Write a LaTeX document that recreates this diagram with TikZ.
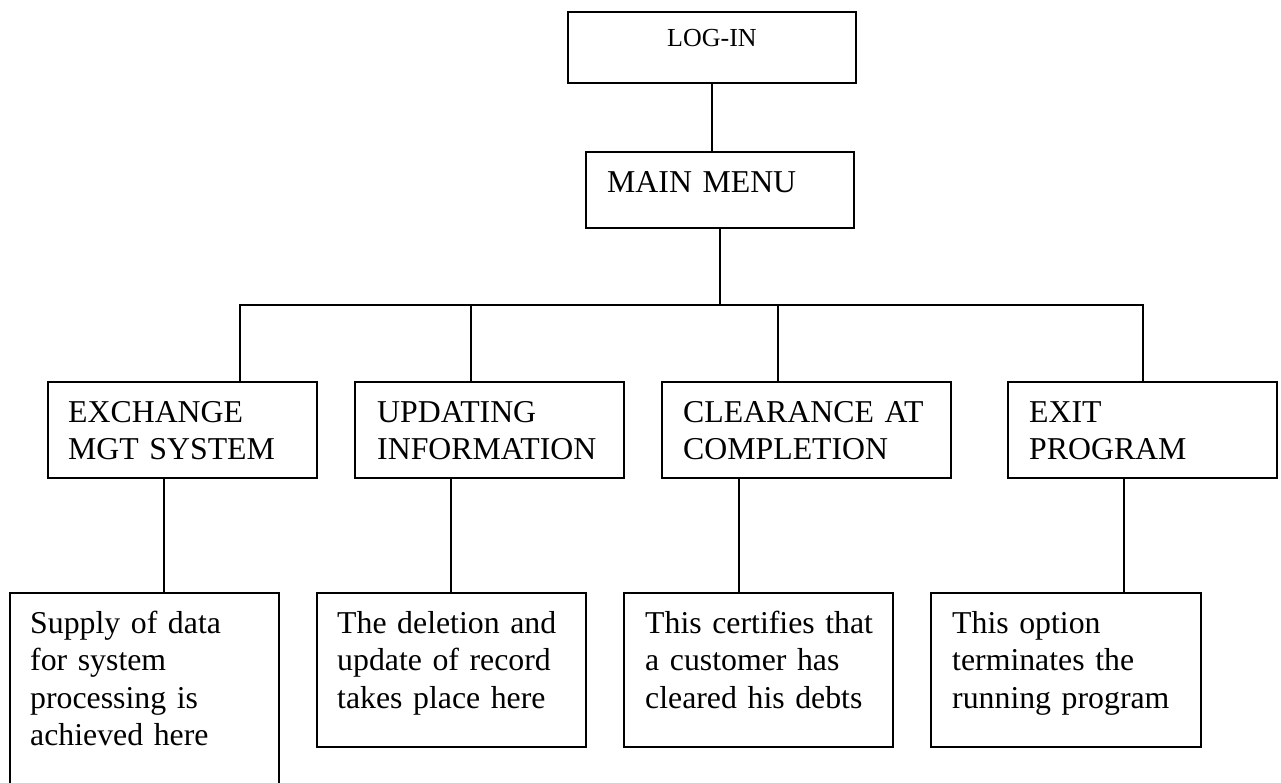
\documentclass[tikz,border=0pt]{standalone}
\usepackage{fontspec}
\setmainfont{Liberation Serif}
\begin{document}
\begin{tikzpicture}[x=1pt,y=-1pt,
  box/.style={draw,line width=1.8pt,inner sep=0pt,outer sep=0pt,anchor=north west},
  lbl/.style={inner sep=0pt,anchor=base west,align=left,text width=262pt,font=\fontsize{31.8}{37.5}\selectfont},
  conn/.style={line width=1.8pt}]
\clip (0,0) rectangle (1281,783);
\fill[white] (0,0) rectangle (1281,783);
% boxes
\node[box,minimum width=288pt,minimum height=71pt] (login) at (568,12) {};
\node[box,minimum width=268pt,minimum height=76pt] (main) at (586,152) {};
\node[box,minimum width=269pt,minimum height=96pt] (ex) at (48,382) {};
\node[box,minimum width=269pt,minimum height=96pt] (up) at (355,382) {};
\node[box,minimum width=289pt,minimum height=96pt] (cl) at (662,382) {};
\node[box,minimum width=269pt,minimum height=96pt] (exit) at (1008,382) {};
\node[box,minimum width=269pt,minimum height=230pt] (b1) at (10,593) {};
\node[box,minimum width=269pt,minimum height=154pt] (b2) at (317,593) {};
\node[box,minimum width=269pt,minimum height=154pt] (b3) at (624,593) {};
\node[box,minimum width=270pt,minimum height=154pt] (b4) at (931,593) {};
% texts
\node[inner sep=0pt,anchor=base,font=\fontsize{26}{30}\selectfont] (logintext) at (712,47) {LOG-IN};
\node[lbl] (maintext) at (607,193) {MAIN MENU};
\node[lbl] (extext) at (68,422) {EXCHANGE\\MGT SYSTEM};
\node[lbl] (uptext) at (377,422) {UPDATING\\INFORMATION};
\node[lbl] (cltext) at (683,422) {CLEARANCE AT\\COMPLETION};
\node[lbl] (exittext) at (1029,422) {EXIT\\PROGRAM};
\node[lbl] (b1text) at (30,633) {Supply of data\\for system\\processing is\\achieved here};
\node[lbl] (b2text) at (337,633) {The deletion and\\update of record\\takes place here};
\node[lbl] (b3text) at (645,633) {This certifies that\\a customer has\\cleared his debts};
\node[lbl] (b4text) at (952,633) {This option\\terminates the\\running program};
% connector points
\coordinate (bus) at (720,305);
\coordinate (exT) at (240,382);
\coordinate (upT) at (471,382);
\coordinate (clT) at (778,382);
\coordinate (exitT) at (1143,382);
\coordinate (exB) at (164,478);
\coordinate (upB) at (451,478);
\coordinate (clB) at (739,478);
\coordinate (exitB) at (1124,478);
% connectors
\draw[conn] (login.south) -- (login.south |- main.north);
\draw[conn] (main.south) -- (main.south |- bus);
\draw[conn] (exT) -- (exT |- bus) -- (exitT |- bus) -- (exitT);
\draw[conn] (upT) -- (upT |- bus);
\draw[conn] (clT) -- (clT |- bus);
\draw[conn] (exB) -- (exB |- b1.north);
\draw[conn] (upB) -- (upB |- b2.north);
\draw[conn] (clB) -- (clB |- b3.north);
\draw[conn] (exitB) -- (exitB |- b4.north);
\end{tikzpicture}
\end{document}
